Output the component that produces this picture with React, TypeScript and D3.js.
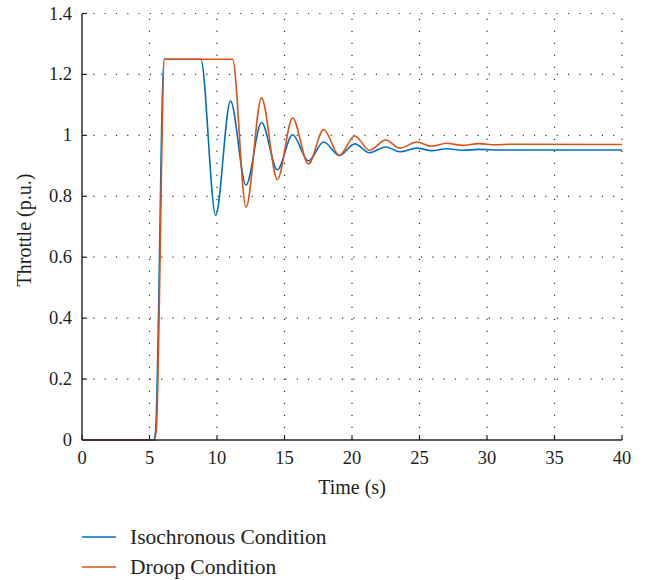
import React from "react";
import * as d3 from "d3";

const xTicks = [0, 5, 10, 15, 20, 25, 30, 35, 40];
const yTicks = [0, 0.2, 0.4, 0.6, 0.8, 1, 1.2, 1.4];
const yTickLabels = ["0", "0.2", "0.4", "0.6", "0.8", "1", "1.2", "1.4"];

const isoTime = [0, 5.3, 5.45, 6.08, 8.8, 9.9, 11.0, 12.15, 13.3, 14.47, 15.6, 16.77, 17.9, 19.06, 20.2, 21.3, 22.5, 23.55, 24.8, 25.9, 27.0, 28.2, 29.4, 31.0, 40];
const isoThrottle = [0, 0, 0.03, 1.25, 1.25, 0.738, 1.113, 0.837, 1.042, 0.887, 1.002, 0.916, 0.978, 0.934, 0.972, 0.943, 0.962, 0.946, 0.958, 0.95, 0.956, 0.951, 0.954, 0.952, 0.952];

const droopTime = [0, 5.35, 5.5, 6.12, 11.15, 12.15, 13.3, 14.47, 15.6, 16.77, 17.9, 19.06, 20.2, 21.3, 22.5, 23.55, 24.8, 25.9, 27.0, 28.2, 29.4, 30.6, 31.8, 40];
const droopThrottle = [0, 0, 0.03, 1.25, 1.25, 0.764, 1.123, 0.855, 1.057, 0.906, 1.019, 0.934, 0.998, 0.951, 0.985, 0.958, 0.978, 0.964, 0.974, 0.967, 0.973, 0.969, 0.971, 0.97];

const seriesNames = ["Isochronous Condition", "Droop Condition"];
const seriesColors = ["#0072BD", "#D95319"];

export default function App() {
  const left = 82, right = 622, top = 13.5, bottom = 440;
  const x = d3.scaleLinear().domain([0, 40]).range([left, right]);
  const y = d3.scaleLinear().domain([0, 1.4]).range([bottom, top]);
  const line = d3
    .line<[number, number]>()
    .x((d) => x(d[0]))
    .y((d) => y(d[1]))
    .curve(d3.curveMonotoneX);
  const iso: [number, number][] = isoTime.map((t, i) => [t, isoThrottle[i]]);
  const droop: [number, number][] = droopTime.map((t, i) => [t, droopThrottle[i]]);
  const textColor = "#231F20";
  const fontStyle = { fontFamily: '"Liberation Serif", "DejaVu Serif", serif' };
  const grid = "#333";

  return (
    <svg
      width={646}
      height={580}
      style={{ position: "absolute", left: 0, top: 0, background: "#fff" }}
    >
      <rect width={646} height={580} fill="#fff" />
      {xTicks.slice(1).map((t) => (
        <line key={"gx" + t} x1={x(t)} x2={x(t)} y1={bottom} y2={top} stroke={grid} strokeWidth={1.2} strokeDasharray="1.2 10.8" />
      ))}
      {yTicks.slice(1).map((t) => (
        <line key={"gy" + t} x1={left} x2={right} y1={y(t)} y2={y(t)} stroke={grid} strokeWidth={1.2} strokeDasharray="1.2 10.1" />
      ))}
      {xTicks.map((t) => (
        <line key={"tx" + t} x1={x(t)} x2={x(t)} y1={bottom} y2={bottom - 5} stroke="#222" strokeWidth={1.2} />
      ))}
      {yTicks.map((t) => (
        <line key={"ty" + t} x1={left} x2={left + 5} y1={y(t)} y2={y(t)} stroke="#222" strokeWidth={1.2} />
      ))}
      <path d={line(iso) || ""} fill="none" stroke={seriesColors[0]} strokeWidth={1.6} />
      <path d={line(droop) || ""} fill="none" stroke={seriesColors[1]} strokeWidth={1.6} />
      <line x1={left} x2={left} y1={top} y2={bottom} stroke="#222" strokeWidth={1.4} />
      <line x1={left} x2={right} y1={bottom} y2={bottom} stroke="#222" strokeWidth={1.4} />
      {xTicks.map((t) => (
        <text key={"lx" + t} x={x(t)} y={464} textAnchor="middle" fontSize={18.5} fill={textColor} style={fontStyle}>
          {t}
        </text>
      ))}
      {yTicks.map((t, i) => (
        <text key={"ly" + t} x={72} y={y(t) + 6} textAnchor="end" fontSize={18.5} fill={textColor} style={fontStyle}>
          {yTickLabels[i]}
        </text>
      ))}
      <text x={(left + right) / 2} y={494} textAnchor="middle" fontSize={20} fill={textColor} style={fontStyle}>
        Time (s)
      </text>
      <text transform={`translate(31,230) rotate(-90)`} textAnchor="middle" fontSize={20} fill={textColor} style={fontStyle}>
        Throttle (p.u.)
      </text>
      {seriesNames.map((name, i) => (
        <g key={name} transform={`translate(0,${537 + i * 30})`}>
          <line x1={82} x2={116} y1={0} y2={0} stroke={seriesColors[i]} strokeWidth={1.6} />
          <text x={130} y={6.8} fontSize={21.5} fill={textColor} style={fontStyle}>
            {name}
          </text>
        </g>
      ))}
    </svg>
  );
}
